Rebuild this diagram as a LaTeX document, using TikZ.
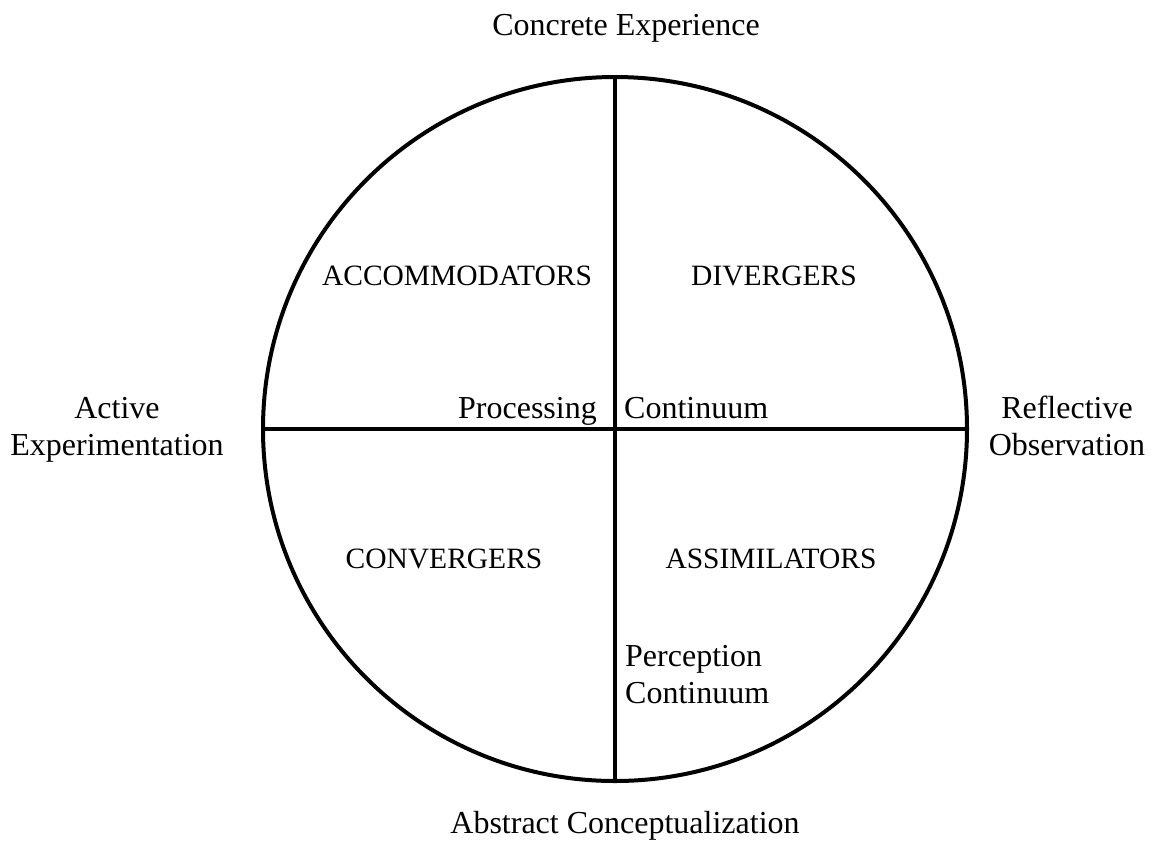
\documentclass[tikz,border=0pt]{standalone}
\usepackage{fontspec}
\setmainfont{Liberation Serif}
\begin{document}
\begin{tikzpicture}[x=1pt,y=-1pt,
  lbl/.style={font=\fontsize{32}{37}\selectfont, inner sep=0pt, anchor=base, align=center},
  quad/.style={font=\fontsize{29.5}{36}\selectfont, inner sep=0pt, anchor=base},
  ring/.style={draw=black, line width=4pt, circle, minimum size=704pt, inner sep=0pt},
  axis/.style={draw=black, line width=4pt}]
\useasboundingbox (0,0) rectangle (1162,847);
\node[ring] (c) at (615,429) {};
\draw[axis] (c.north) -- (c.south);
\draw[axis] (c.west) -- (c.east);
\node[lbl] (ce) at (626,35) {Concrete Experience};
\node[lbl] (ac) at (625,833) {Abstract Conceptualization};
\node[lbl, anchor=base] (ae) at (117,455) {Active\\Experimentation};
\node[lbl, anchor=base] (ro) at (1067,455) {Reflective\\Observation};
\node[quad] (acc) at (457,285) {ACCOMMODATORS};
\node[quad] (div) at (774,285) {DIVERGERS};
\node[quad] (con) at (444,568) {CONVERGERS};
\node[quad] (ass) at (771,568) {ASSIMILATORS};
\node[lbl, anchor=base east] (proc) at (597,418) {Processing};
\node[lbl, anchor=base west] (cont) at (624,418) {Continuum};
\node[lbl, anchor=base west, align=left] (perc) at (625,703) {Perception\\Continuum};
\end{tikzpicture}
\end{document}
